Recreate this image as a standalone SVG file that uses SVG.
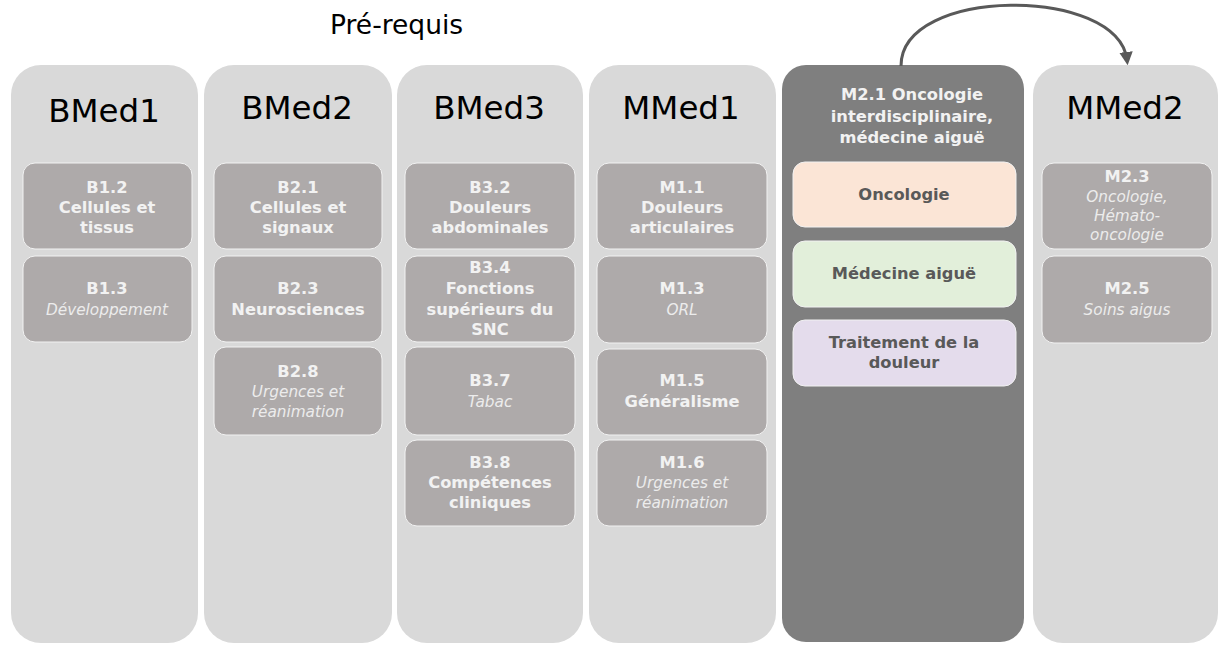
<svg xmlns="http://www.w3.org/2000/svg" width="1220" height="645" viewBox="0 0 1220 645">
<defs>
<marker id="ah" viewBox="0 0 10 10" refX="6" refY="5" markerWidth="4.5" markerHeight="4.5" orient="auto" markerUnits="strokeWidth">
<path d="M0,0 L10,5 L0,10 z" fill="#595959"/>
</marker>
<style>
.col{fill:#d9d9d9}
.dark{fill:#7f7f7f}
.box{fill:#aeaaaa;stroke:#f2f2f2;stroke-width:1}
.hdr{font-family:"DejaVu Sans",Verdana,sans-serif;font-size:32.5px;fill:#000;text-anchor:middle}
.t{font-family:"DejaVu Sans",Verdana,sans-serif;font-size:16.3px;text-anchor:middle}
.b{font-weight:bold;fill:#f2f2f2}
.i{font-style:italic;fill:#ececec;font-size:15.3px}
.d{font-weight:bold;fill:#595959}
.title{font-family:"DejaVu Sans",Verdana,sans-serif;font-size:26.5px;fill:#000}
</style>
</defs>
<text class="title" x="330" y="34">Pré-requis</text>

<g id="col-bmed1">
<rect class="col" x="11" y="65" width="187" height="578" rx="30" ry="30"/>
<text class="hdr" x="104" y="122">BMed1</text>
</g>
<g id="col-bmed2">
<rect class="col" x="204" y="65" width="188" height="578" rx="30" ry="30"/>
<text class="hdr" x="297" y="119">BMed2</text>
</g>
<g id="col-bmed3">
<rect class="col" x="397" y="65" width="186" height="578" rx="30" ry="30"/>
<text class="hdr" x="489" y="119">BMed3</text>
</g>
<g id="col-mmed1">
<rect class="col" x="589" y="65" width="187" height="578" rx="30" ry="30"/>
<text class="hdr" x="681" y="119">MMed1</text>
</g>
<g id="col-m21">
<rect class="dark" x="782" y="65" width="242" height="577" rx="24" ry="24"/>
<text class="t b" x="912" y="100">M2.1 Oncologie</text>
<text class="t b" x="912" y="122">interdisciplinaire,</text>
<text class="t b" x="912" y="143">médecine aiguë</text>
</g>
<g id="col-mmed2">
<rect class="col" x="1033" y="65" width="185" height="578" rx="30" ry="30"/>
<text class="hdr" x="1125" y="119">MMed2</text>
</g>

<g id="b12"><rect class="box" x="23" y="163" width="169" height="86" rx="12"/>
<text class="t b" x="107" y="193">B1.2</text><text class="t b" x="107" y="213">Cellules et</text><text class="t b" x="107" y="233">tissus</text></g>
<g id="b13"><rect class="box" x="23" y="256" width="169" height="86" rx="12"/>
<text class="t b" x="107" y="294">B1.3</text><text class="t i" x="107" y="315">Développement</text></g>

<g id="b21"><rect class="box" x="214" y="163" width="168" height="86" rx="12"/>
<text class="t b" x="298" y="193">B2.1</text><text class="t b" x="298" y="213">Cellules et</text><text class="t b" x="298" y="233">signaux</text></g>
<g id="b23"><rect class="box" x="214" y="256" width="168" height="86" rx="12"/>
<text class="t b" x="298" y="294">B2.3</text><text class="t b" x="298" y="315">Neurosciences</text></g>
<g id="b28"><rect class="box" x="214" y="347" width="168" height="88" rx="12"/>
<text class="t b" x="298" y="377">B2.8</text><text class="t i" x="298" y="397">Urgences et</text><text class="t i" x="298" y="417">réanimation</text></g>

<g id="b32"><rect class="box" x="405" y="163" width="170" height="86" rx="12"/>
<text class="t b" x="490" y="193">B3.2</text><text class="t b" x="490" y="213">Douleurs</text><text class="t b" x="490" y="233">abdominales</text></g>
<g id="b34"><rect class="box" x="405" y="256" width="170" height="86" rx="12"/>
<text class="t b" x="490" y="273">B3.4</text><text class="t b" x="490" y="294">Fonctions</text><text class="t b" x="490" y="315">supérieurs du</text><text class="t b" x="490" y="335">SNC</text></g>
<g id="b37"><rect class="box" x="405" y="347" width="170" height="88" rx="12"/>
<text class="t b" x="490" y="386">B3.7</text><text class="t i" x="490" y="407">Tabac</text></g>
<g id="b38"><rect class="box" x="405" y="440" width="170" height="86" rx="12"/>
<text class="t b" x="490" y="468">B3.8</text><text class="t b" x="490" y="488">Compétences</text><text class="t b" x="490" y="508">cliniques</text></g>

<g id="m11"><rect class="box" x="597" y="163" width="170" height="86" rx="12"/>
<text class="t b" x="682" y="193">M1.1</text><text class="t b" x="682" y="213">Douleurs</text><text class="t b" x="682" y="233">articulaires</text></g>
<g id="m13"><rect class="box" x="597" y="256" width="170" height="87" rx="12"/>
<text class="t b" x="682" y="294">M1.3</text><text class="t i" x="682" y="315">ORL</text></g>
<g id="m15"><rect class="box" x="597" y="349" width="170" height="86" rx="12"/>
<text class="t b" x="682" y="386">M1.5</text><text class="t b" x="682" y="407">Généralisme</text></g>
<g id="m16"><rect class="box" x="597" y="440" width="170" height="86" rx="12"/>
<text class="t b" x="682" y="468">M1.6</text><text class="t i" x="682" y="488">Urgences et</text><text class="t i" x="682" y="508">réanimation</text></g>

<g id="onco"><rect x="793" y="162" width="223" height="65" rx="12" fill="#fbe5d6" stroke="#f2f2f2"/>
<text class="t d" x="904" y="200">Oncologie</text></g>
<g id="medaigue"><rect x="793" y="241" width="223" height="66" rx="12" fill="#e2efda" stroke="#f2f2f2"/>
<text class="t d" x="904" y="279">Médecine aiguë</text></g>
<g id="douleur"><rect x="793" y="320" width="223" height="66" rx="12" fill="#e4dcec" stroke="#f2f2f2"/>
<text class="t d" x="904" y="348">Traitement de la</text><text class="t d" x="904" y="368">douleur</text></g>

<g id="m23"><rect class="box" x="1042" y="163" width="170" height="86" rx="12"/>
<text class="t b" x="1127" y="182">M2.3</text><text class="t i" x="1127" y="202">Oncologie,</text><text class="t i" x="1127" y="221">Hémato-</text><text class="t i" x="1127" y="240">oncologie</text></g>
<g id="m25"><rect class="box" x="1042" y="256" width="170" height="87" rx="12"/>
<text class="t b" x="1127" y="294">M2.5</text><text class="t i" x="1127" y="315">Soins aigus</text></g>

<g id="connectors">
<path d="M901,66 C901,-14 1118,-14 1127,60" fill="none" stroke="#595959" stroke-width="3" marker-end="url(#ah)"/>
</g>
</svg>
